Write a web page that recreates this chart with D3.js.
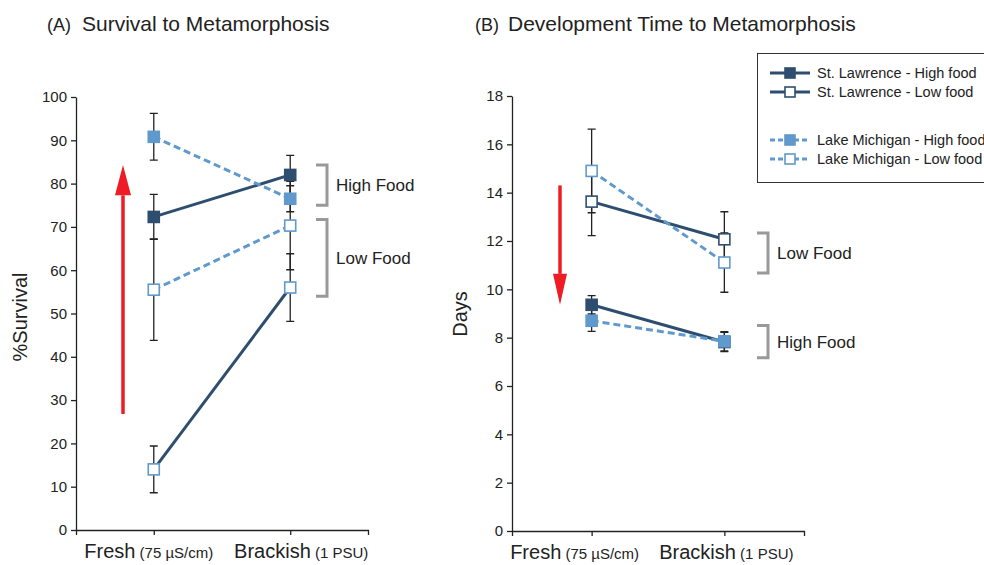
<!DOCTYPE html>
<html>
<head>
<meta charset="utf-8">
<script src="https://cdn.jsdelivr.net/npm/d3@7"></script>
<style>
  body { margin: 0; background: #fff; }
  text { font-family: "Liberation Sans", Arial, sans-serif; fill: #222; }
</style>
</head>
<body>
<svg width="984" height="565"></svg>
<script>
// categories (x)
const categories = ['Fresh', 'Brackish'];
const catMain = ['Fresh', 'Brackish'];
const catSub = [' (75 µS/cm)', ' (1 PSU)'];

const seriesNames = [
  'St. Lawrence - High food',
  'St. Lawrence - Low food',
  'Lake Michigan - High food',
  'Lake Michigan - Low food'
];

// (A) % survival : mean, error
const survSLHigh = [72.3, 82.0];
const survSLHighErr = [5.2, 4.5];
const survSLLow = [14.0, 56.0];
const survSLLowErr = [5.4, 7.8];
const survLMHigh = [90.8, 76.5];
const survLMHighErr = [5.4, 3.0];
const survLMLow = [55.5, 70.3];
const survLMLowErr = [11.7, 10.2];

// (B) development time in days : mean, error
const daysSLHigh = [9.36, 7.82];
const daysSLHighErr = [0.38, 0.4];
const daysSLLow = [13.63, 12.07];
const daysSLLowErr = [1.41, 1.14];
const daysLMHigh = [8.7, 7.85];
const daysLMHighErr = [0.44, 0.4];
const daysLMLow = [14.9, 11.11];
const daysLMLowErr = [1.73, 1.23];

const survTicks = [0, 10, 20, 30, 40, 50, 60, 70, 80, 90, 100];
const daysTicks = [0, 2, 4, 6, 8, 10, 12, 14, 16, 18];

const dark = '#2e4e6f';
const light = '#6099cc';
const red = '#ee1c25';

const styles = [
  { color: dark, dash: null, filled: true },
  { color: dark, dash: null, filled: false },
  { color: light, dash: '7,4', filled: true },
  { color: light, dash: '7,4', filled: false }
];

const svg = d3.select('svg');

const drawPanel = (p) => {
  const x = d3.scalePoint().domain(categories).range(p.xRange).padding(p.pad);
  const y = d3.scaleLinear().domain(p.yDomain).range(p.yRange);
  const g = svg.append('g');

  // y axis
  const ya = g.append('g')
    .attr('transform', `translate(${p.xRange[0]},0)`)
    .call(d3.axisLeft(y).tickValues(p.ticks).tickSize(5).tickSizeOuter(0).tickPadding(4));
  ya.selectAll('text').style('font-size', '15px').attr('fill', '#222');
  ya.selectAll('line,path').attr('stroke', '#222').attr('stroke-width', 1.3);

  // x axis
  const xa = g.append('g')
    .attr('transform', `translate(0,${p.yRange[0]})`)
    .call(d3.axisBottom(x).tickSize(5).tickSizeOuter(5).tickFormat(''));
  xa.selectAll('line,path').attr('stroke', '#222').attr('stroke-width', 1.3);

  categories.forEach((c, i) => {
    const t = g.append('text')
      .attr('x', x(c) + p.labelDx[i])
      .attr('y', p.yRange[0] + 28)
      .attr('text-anchor', 'middle');
    t.append('tspan').text(catMain[i]).style('font-size', '20px');
    t.append('tspan').text(catSub[i]).style('font-size', '15px');
  });

  // axis title
  g.append('text')
    .attr('transform', `translate(${p.yLabelX},${p.yLabelY}) rotate(-90)`)
    .attr('text-anchor', 'middle')
    .style('font-size', '20px')
    .text(p.yLabel);

  // panel title
  const tt = g.append('text').attr('x', p.titleX).attr('y', 31);
  tt.append('tspan').text(p.tag).style('font-size', '18px');
  tt.append('tspan').attr('dx', p.titleGap).text(p.title).style('font-size', '21px');

  // red arrow
  const ax = p.arrow.x;
  const a0 = y(p.arrow.from), aTip = y(p.arrow.to), aBase = y(p.arrow.base);
  g.append('line')
    .attr('x1', ax).attr('x2', ax).attr('y1', a0).attr('y2', aBase)
    .attr('stroke', red).attr('stroke-width', 3.5);
  g.append('path')
    .attr('d', `M${ax},${aTip}L${ax - p.arrow.hw},${aBase}L${ax + p.arrow.hw},${aBase}Z`)
    .attr('fill', red);

  // brackets
  p.brackets.forEach((b) => {
    g.append('path')
      .attr('d', `M${b.x},${y(b.top)}H${b.x + 11}V${y(b.bottom)}H${b.x}`)
      .attr('fill', 'none').attr('stroke', '#999').attr('stroke-width', 3);
    g.append('text')
      .attr('x', b.x + 20)
      .attr('y', (y(b.top) + y(b.bottom)) / 2)
      .attr('dy', '0.35em')
      .style('font-size', '17px')
      .text(b.label);
  });

  // error bars
  p.series.forEach((s) => {
    categories.forEach((c, i) => {
      const cx = x(c);
      const lo = y(s.mean[i] - s.err[i]), hi = y(s.mean[i] + s.err[i]);
      g.append('path')
        .attr('d', `M${cx},${lo}V${hi}M${cx - 4},${lo}H${cx + 4}M${cx - 4},${hi}H${cx + 4}`)
        .attr('fill', 'none').attr('stroke', '#222').attr('stroke-width', 1.3);
    });
  });

  // lines and markers
  const line = d3.line().x((d) => x(d[0])).y((d) => y(d[1]));
  p.series.forEach((s, k) => {
    const st = styles[k];
    g.append('path')
      .attr('d', line(categories.map((c, i) => [c, s.mean[i]])))
      .attr('fill', 'none')
      .attr('stroke', st.color)
      .attr('stroke-width', 3)
      .attr('stroke-dasharray', st.dash);
  });
  p.series.forEach((s, k) => {
    const st = styles[k];
    const mk = s.markerStroke || st.color;
    categories.forEach((c, i) => {
      g.append('rect')
        .attr('x', x(c) - 5.5).attr('y', y(s.mean[i]) - 5.5)
        .attr('width', 11).attr('height', 11)
        .attr('fill', st.filled ? st.color : '#fff')
        .attr('stroke', mk).attr('stroke-width', 1.6);
    });
  });
};

drawPanel({
  xRange: [76, 368], pad: 0.57, yDomain: [0, 100], yRange: [530, 97], ticks: survTicks,
  labelDx: [-5, 11], yLabel: '%Survival', yLabelX: 27, yLabelY: 317,
  tag: '(A)', title: 'Survival to Metamorphosis', titleX: 47, titleGap: 11,
  arrow: { x: 123, from: 26.8, to: 84.3, base: 77.3, hw: 8 },
  brackets: [
    { x: 316, top: 84.3, bottom: 75, label: 'High Food' },
    { x: 316, top: 71.7, bottom: 54, label: 'Low Food' }
  ],
  series: [
    { mean: survSLHigh, err: survSLHighErr },
    { mean: survSLLow, err: survSLLowErr, markerStroke: light },
    { mean: survLMHigh, err: survLMHighErr },
    { mean: survLMLow, err: survLMLowErr }
  ]
});

drawPanel({
  xRange: [512, 804], pad: 0.6, yDomain: [0, 18], yRange: [531, 96], ticks: daysTicks,
  labelDx: [-17, 2], yLabel: 'Days', yLabelX: 467, yLabelY: 314,
  tag: '(B)', title: 'Development Time to Metamorphosis', titleX: 475, titleGap: 9,
  arrow: { x: 560, from: 14.3, to: 9.36, base: 10.64, hw: 7 },
  brackets: [
    { x: 757, top: 12.33, bottom: 10.68, label: 'Low Food' },
    { x: 757, top: 8.5, bottom: 7.17, label: 'High Food' }
  ],
  series: [
    { mean: daysSLHigh, err: daysSLHighErr },
    { mean: daysSLLow, err: daysSLLowErr },
    { mean: daysLMHigh, err: daysLMHighErr },
    { mean: daysLMLow, err: daysLMLowErr }
  ]
});

// legend
const leg = svg.append('g');
leg.append('rect')
  .attr('x', 757.5).attr('y', 53.5).attr('width', 240).attr('height', 129)
  .attr('fill', '#fff').attr('stroke', '#333').attr('stroke-width', 1);
const legY = [73, 92, 140, 159];
seriesNames.forEach((name, k) => {
  const st = styles[k];
  leg.append('line')
    .attr('x1', 770).attr('x2', 810).attr('y1', legY[k]).attr('y2', legY[k])
    .attr('stroke', st.color).attr('stroke-width', 3)
    .attr('stroke-dasharray', st.dash ? '5,3' : null);
  leg.append('rect')
    .attr('x', 785).attr('y', legY[k] - 5).attr('width', 10).attr('height', 10)
    .attr('fill', st.filled ? st.color : '#fff')
    .attr('stroke', st.color).attr('stroke-width', 1.6);
  leg.append('text')
    .attr('x', 817).attr('y', legY[k]).attr('dy', '0.35em')
    .style('font-size', '14.5px')
    .text(name);
});
</script>
</body>
</html>
